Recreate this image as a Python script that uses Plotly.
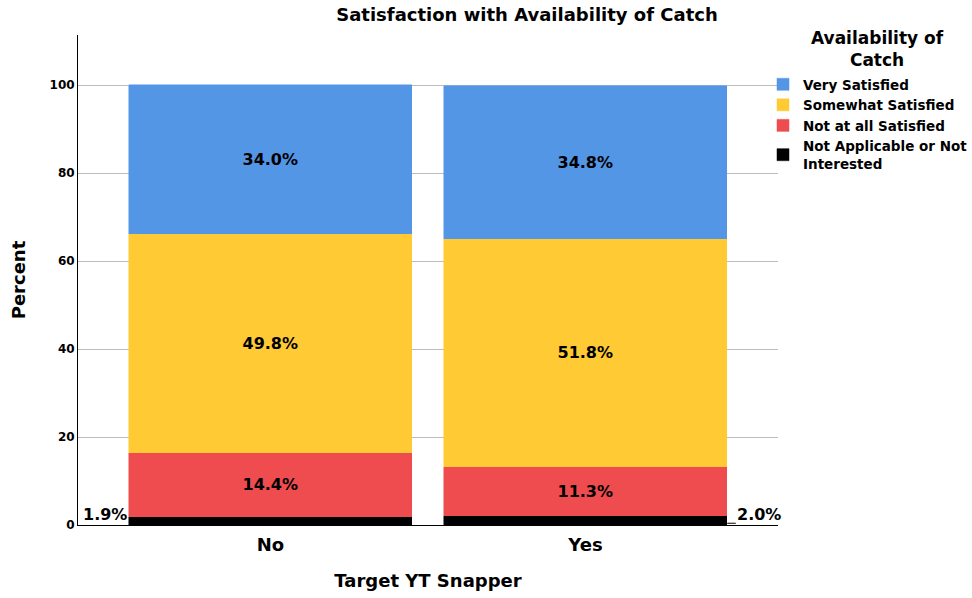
import plotly.graph_objects as go

# Survey responses: satisfaction with availability of catch, split by whether
# the respondent targets yellowtail snapper.
groups = ["No", "Yes"]
levels = ["Not Applicable or Not<br>Interested", "Not at all Satisfied",
          "Somewhat Satisfied", "Very Satisfied"]
not_applicable = [1.9, 2.0]
not_at_all = [14.4, 11.3]
somewhat = [49.8, 51.8]
very = [34.0, 34.8]
colors = ["#000000", "#EE4C4E", "#FFCA33", "#5496E6"]
y_ticks = [0, 20, 40, 60, 80, 100]

series = [not_applicable, not_at_all, somewhat, very]
x_pos = [0, 1]
bar_width = 0.9
FONT = "DejaVu Sans, Arial, sans-serif"

fig = go.Figure()
for name, vals, col in zip(levels, series, colors):
    show_text = vals is not not_applicable
    fig.add_trace(go.Bar(
        x=x_pos, y=vals, name=f"<b>{name}</b>", width=bar_width,
        marker=dict(color=col, line=dict(color=col, width=0.5)),
        text=[f"<b>{v:.1f}%</b>" for v in vals] if show_text else None,
        textposition="inside" if show_text else "none",
        insidetextanchor="middle",
        textfont=dict(family=FONT, size=16, color="black"),
        constraintext="none",
        hoverinfo="skip",
    ))

# Small segment labels placed beside the bars
half = bar_width / 2
fig.add_annotation(x=x_pos[0] - half, y=0, xref="x", yref="y",
                   text=f"<b>{not_applicable[0]:.1f}%</b>", showarrow=False,
                   xanchor="right", yanchor="bottom", xshift=0, yshift=-1,
                   font=dict(family=FONT, size=16, color="black"))
fig.add_annotation(x=x_pos[1] + half, y=0, xref="x", yref="y",
                   text=f"<b>{not_applicable[1]:.1f}%</b>", showarrow=False,
                   xanchor="left", yanchor="bottom", xshift=8, yshift=-1,
                   font=dict(family=FONT, size=16, color="black"))
fig.add_shape(type="line", xref="x", yref="y",
              x0=x_pos[1] + half, x1=x_pos[1] + half + 0.027,
              y0=not_applicable[1] / 5, y1=not_applicable[1] / 5,
              line=dict(color="black", width=1))

# Legend heading, centred over the legend entries
fig.add_annotation(x=(877 - 78) / 700, y=(525 - 49) / 490,
                   xref="paper", yref="paper",
                   text="<b>Availability of<br>Catch</b>", showarrow=False,
                   align="center", xanchor="center", yanchor="middle",
                   font=dict(family=FONT, size=17, color="black"))

fig.update_layout(
    barmode="stack",
    width=972, height=598,
    margin=dict(l=78, r=194, t=35, b=73, autoexpand=False),
    plot_bgcolor="white", paper_bgcolor="white",
    font=dict(family=FONT, color="black"),
    title=dict(text="<b>Satisfaction with Availability of Catch</b>",
               x=527 / 972, xanchor="center", y=0.975, yanchor="middle",
               font=dict(size=18, family=FONT, color="black")),
    xaxis=dict(
        tickvals=x_pos, ticktext=[f"<b>{g}</b>" for g in groups],
        range=[-0.611, 1.611], showgrid=False,
        showline=True, linecolor="black", linewidth=1,
        ticks="", ticklabelstandoff=3,
        tickfont=dict(size=18, family=FONT, color="black"),
        title=dict(text="<b>Target YT Snapper</b>",
                   font=dict(size=18, family=FONT, color="black"),
                   standoff=20),
    ),
    yaxis=dict(
        range=[0, 111.4], tickvals=y_ticks,
        ticktext=[f"<b>{t}</b>" for t in y_ticks],
        showgrid=True, gridcolor="#BBBBBB", gridwidth=1,
        showline=True, linecolor="black", linewidth=1,
        zeroline=False, ticks="",
        tickfont=dict(size=12, family=FONT, color="black"),
        title=dict(text="<b>Percent</b>",
                   font=dict(size=18, family=FONT, color="black"),
                   standoff=19),
    ),
    legend=dict(
        x=(763 - 78) / 700, y=(525 - 69) / 490, xanchor="left", yanchor="top",
        traceorder="reversed",
        font=dict(size=13.5, family=FONT, color="black"),
        itemwidth=30, tracegroupgap=0,
        bgcolor="rgba(0,0,0,0)",
    ),
    bargap=0,
)

fig.write_html("out.html")
